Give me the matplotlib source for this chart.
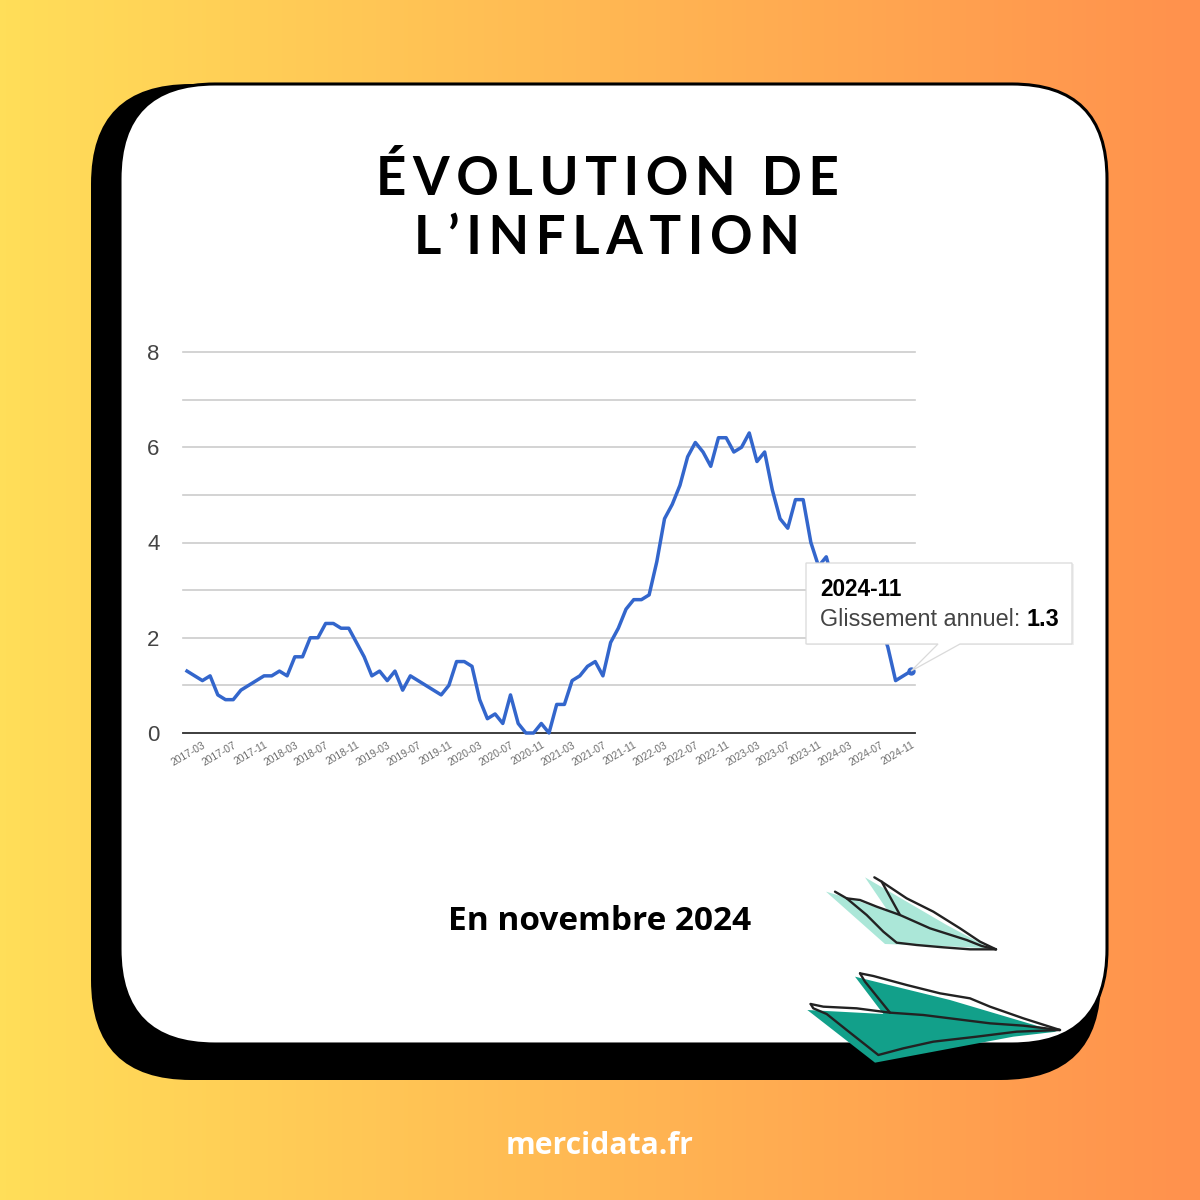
import numpy as np
import pandas as pd
import matplotlib
matplotlib.use('Agg')
import matplotlib.pyplot as plt
from matplotlib.colors import LinearSegmentedColormap
from matplotlib.patches import FancyBboxPatch, Polygon

# Glissement annuel, one value per month from 2017-01 to 2024-11
# (2024-01 to 2024-07 sit behind the tooltip, estimated)
inflation = [1.3, 1.2, 1.1, 1.2, 0.8, 0.7, 0.7, 0.9, 1.0, 1.1, 1.2, 1.2,
             1.3, 1.2, 1.6, 1.6, 2.0, 2.0, 2.3, 2.3, 2.2, 2.2, 1.9, 1.6,
             1.2, 1.3, 1.1, 1.3, 0.9, 1.2, 1.1, 1.0, 0.9, 0.8, 1.0, 1.5,
             1.5, 1.4, 0.7, 0.3, 0.4, 0.2, 0.8, 0.2, 0.0, 0.0, 0.2, 0.0,
             0.6, 0.6, 1.1, 1.2, 1.4, 1.5, 1.2, 1.9, 2.2, 2.6, 2.8, 2.8,
             2.9, 3.6, 4.5, 4.8, 5.2, 5.8, 6.1, 5.9, 5.6, 6.2, 6.2, 5.9,
             6.0, 6.3, 5.7, 5.9, 5.1, 4.5, 4.3, 4.9, 4.9, 4.0, 3.5, 3.7,
             3.1, 3.0, 2.3, 2.2, 2.3, 2.2, 2.3, 1.8, 1.1, 1.2, 1.3]
months = pd.period_range('2017-01', periods=len(inflation), freq='M').strftime('%Y-%m').tolist()
y_ticks = [0, 1, 2, 3, 4, 5, 6, 7, 8]
y_labels = ['0', '', '2', '', '4', '', '6', '', '8']

title_lines = ['ÉVOLUTION DE', 'L’INFLATION']
subtitle = 'En novembre 2024'
footer = 'mercidata.fr'

SIZE = 1200
fig = plt.figure(figsize=(12, 12), dpi=100)

# background layer in pixel coordinates
bg = fig.add_axes([0, 0, 1, 1], zorder=0)
bg.set_xlim(0, SIZE)
bg.set_ylim(SIZE, 0)
bg.axis('off')
cmap = LinearSegmentedColormap.from_list('bg', ['#FFDE59', '#FF914D'])
bg.imshow(np.linspace(0, 1, 600).reshape(1, -1), cmap=cmap, extent=[0, SIZE, SIZE, 0], aspect='auto')
bg.add_patch(FancyBboxPatch((91, 84), 1010, 996, boxstyle='round,pad=0,rounding_size=100',
                            fc='black', ec='none'))
bg.add_patch(FancyBboxPatch((120, 84), 987, 960, boxstyle='round,pad=0,rounding_size=95',
                            fc='white', ec='black', lw=2.2))

# Title, with thin spaces for the letter spacing
for txt, ypos in zip(title_lines, [179, 238]):
    bg.text(607, ypos, '\u2009'.join(txt), family=['Lato', 'DejaVu Sans'], fontweight='bold',
            fontsize=38, color='black', ha='center', va='center')
bg.text(600, 921, subtitle, family='Open Sans', fontweight='bold', fontsize=24,
        color='black', ha='center', va='center')
bg.text(600, 1146, footer, family='Open Sans', fontweight='bold', fontsize=21.7,
        color='white', ha='center', va='center')

# Chart
ax = fig.add_axes([183 / SIZE, 1 - 733 / SIZE, 732 / SIZE, 381 / SIZE], zorder=1)
ax.patch.set_alpha(0)
x = np.arange(len(inflation))
ax.set_xlim(-0.52, len(inflation) - 1 + 0.52)
ax.set_ylim(0, 8)
ax.set_yticks(y_ticks)
ax.set_yticklabels(y_labels, family='Liberation Sans', fontsize=16, color='#444444')
ax.set_xticks(x[2::4])
ax.set_xticklabels(months[2::4], family='Liberation Sans', fontsize=7.4, color='#6E6E6E',
                   rotation=30, ha='right', rotation_mode='anchor')
ax.tick_params(axis='y', length=0, pad=17)
ax.tick_params(axis='x', length=0, pad=5)
for s in ax.spines.values():
    s.set_visible(False)
ax.grid(axis='y', color='#CCCCCC', lw=1.2, clip_on=False)
ax.set_axisbelow(True)
ax.axhline(0, color='#333333', lw=1.3, zorder=1.5, clip_on=False)
ax.plot(x, inflation, color='#3366CC', lw=2.5, clip_on=False, zorder=3, solid_joinstyle='round')
ax.plot(x[-1], inflation[-1], 'o', color='#3366CC', ms=5, clip_on=False, zorder=4)

# Tooltip and paper planes, above the chart
top = fig.add_axes([0, 0, 1, 1], zorder=2)
top.set_xlim(0, SIZE)
top.set_ylim(SIZE, 0)
top.axis('off')
top.patch.set_alpha(0)

tip = ax.transData.transform((x[-1], inflation[-1]))
tip = (tip[0], SIZE - tip[1])
top.add_patch(FancyBboxPatch((807, 564), 267, 81, boxstyle='square,pad=0', fc='#0000000F', ec='none'))
top.add_patch(Polygon([(806, 563), (1072, 563), (1072, 644), (960, 644), tip, (938, 644), (806, 644)],
                      closed=True, fc='white', ec='#DADADA', lw=0.9))
top.text(820, 589, months[-1], family='Liberation Sans', fontweight='bold', fontsize=16.3,
         color='black', ha='left', va='center')
t1 = top.text(820, 620, 'Glissement annuel: ', family='Liberation Sans', fontsize=16.8,
              color='#444444', ha='left', va='center')
top.annotate('%.1f' % inflation[-1], xy=(1, 0.5), xycoords=t1, family='Liberation Sans', fontweight='bold',
             fontsize=16.8, color='black', ha='left', va='center')


def plane(pts):
    # points read on a 3x crop starting at (790, 860)
    return [(790 + p[0] / 3, 860 + p[1] / 3) for p in pts]


ink = dict(color='#222222', lw=1.7, solid_capstyle='round', solid_joinstyle='round')
top.add_patch(Polygon(plane([(108, 95), (210, 125), (295, 155), (225, 52), (470, 195), (600, 265),
                             (450, 258), (285, 252)]), closed=True, fc='#ABE7D8', ec='none'))
for line in [[(135, 95), (170, 115), (210, 120), (260, 140), (330, 165), (420, 205), (530, 240), (575, 258), (618, 268)],
             [(170, 115), (230, 165), (280, 215), (320, 248), (380, 255), (460, 262), (540, 268), (618, 268)],
             [(253, 52), (275, 65), (330, 165)],
             [(275, 65), (350, 115), (430, 155), (510, 205), (570, 245), (618, 268)]]:
    top.plot(*zip(*plane(line)), **ink)

top.add_patch(Polygon(plane([(52, 450), (280, 462), (195, 350), (480, 420), (800, 515), (670, 530),
                             (255, 608)]), closed=True, fc='#12A08A', ec='none'))
for line in [[(62, 432), (70, 445), (110, 462), (170, 510), (265, 585), (340, 565), (430, 545), (560, 530), (680, 515), (810, 510)],
             [(62, 432), (100, 440), (200, 445), (300, 458), (400, 465), (480, 475), (600, 490), (700, 497), (810, 510)],
             [(210, 340), (225, 365), (300, 458)],
             [(210, 340), (250, 348), (350, 375), (450, 400), (540, 415), (600, 440), (700, 475), (810, 510)]]:
    top.plot(*zip(*plane(line)), **ink)

fig.savefig('out.png', dpi=100)
